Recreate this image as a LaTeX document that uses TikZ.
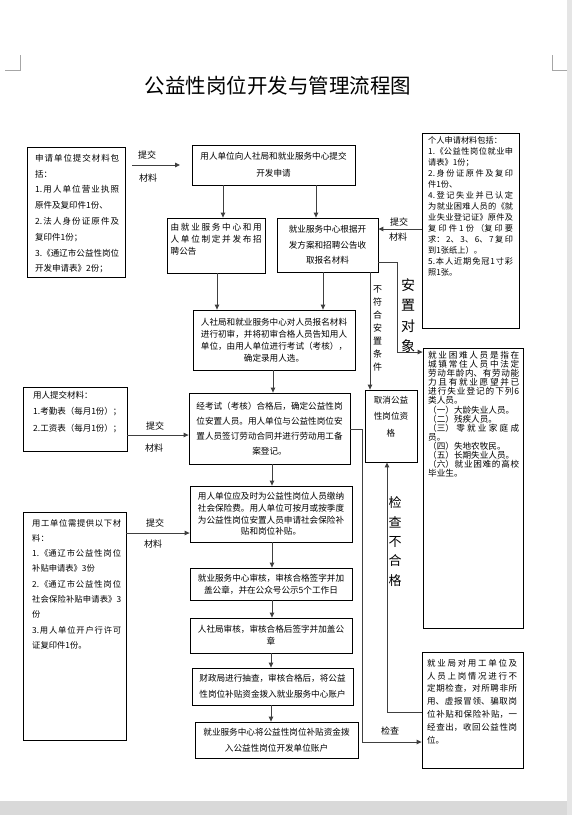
\documentclass[tikz,border=0pt]{standalone}
\usepackage{fontspec}
\setmainfont{Noto Sans CJK SC}
\usetikzlibrary{arrows.meta}
\XeTeXlinebreaklocale "zh"
\XeTeXlinebreakskip=0pt plus 6pt
\XeTeXlinebreakpenalty=10000
\setlength{\parindent}{0pt}
\newcommand{\myfs}[2]{\fontsize{#1}{#2}\selectfont}
\tikzset{
  box/.style={draw=black, line width=0.8pt, inner sep=2pt, align=center},
  txt/.style={inner sep=0pt, align=justify, anchor=north west},
  conn/.style={draw=black!75, line width=0.9pt},
  arr/.style={conn, -{Triangle[length=5pt,width=4.5pt]}},
  lab/.style={inner sep=0pt, font={\myfs{9}{10}}},
  vlab/.style={inner sep=0pt, align=center},
}
\begin{document}
\begin{tikzpicture}[x=1pt,y=-1pt]
\useasboundingbox (0,0) rectangle (572,815);
\fill[white] (0,0) rectangle (572,815);
\fill[gray!30] (0,801) rectangle (572,815);
\fill[gray!20] (567,0) rectangle (572,815);
\draw[gray!70, line width=0.5pt] (5,70) -- (20,70) -- (20,55);
\draw[gray!70, line width=0.5pt] (567,70) -- (552,70) -- (552,55);

% title
\node[inner sep=0pt, font={\myfs{20.5}{24}}] (title) at (278,86) {公益性岗位开发与管理流程图};

% left boxes
\node[box, minimum width=98pt, minimum height=130pt] (L1) at (76,212) {};
\node[txt, text width=84pt, font={\myfs{8.5}{15.8}}] (L1t) at (35,153.8) {申请单位提交材料包\linebreak 括：\par 1.用人单位营业执照\linebreak 原件及复印件1份、\par 2.法人身份证原件及\linebreak 复印件1份；\par 3.《通辽市公益性岗位\linebreak 开发申请表》2份；};

\node[box, minimum width=104pt, minimum height=64pt] (L2) at (75,419) {};
\node[txt, text width=90pt, font={\myfs{8.5}{16.5}}] (L2t) at (33,390.8) {用人提交材料：\par 1.考勤表（每月1份）；\par 2.工资表（每月1份）；};

\node[box, minimum width=103pt, minimum height=228pt] (L3) at (74.5,626) {};
\node[txt, text width=89pt, font={\myfs{8.3}{15.3}}] (L3t) at (32,518.8) {用工单位需提供以下材\linebreak 料：\par 1.《通辽市公益性岗位\linebreak 补贴申请表》3份\par 2.《通辽市公益性岗位\linebreak 社会保险补贴申请表》3\linebreak 份\par 3.用人单位开户行许可\linebreak 证复印件1份。};

% middle column
\node[box, minimum width=163pt, minimum height=40pt, font={\myfs{8.6}{17}}] (T1) at (273.5,165) {用人单位向人社局和就业服务中心提交\\开发申请};

\node[box, minimum width=98pt, minimum height=55pt] (M1) at (216,245.5) {};
\node[txt, text width=91pt, font={\myfs{8.6}{12}}] (M1t) at (170.5,223) {由就业服务中心和用\linebreak 人单位制定并发布招\linebreak 聘公告};

\node[box, minimum width=101pt, minimum height=54pt, font={\myfs{8.6}{15.5}}] (M2) at (327.5,245) {就业服务中心根据开\\发方案和招聘公告收\\取报名材料};

\node[box, minimum width=162pt, minimum height=60pt, font={\myfs{8.6}{12}}] (M3) at (274,340) {人社局和就业服务中心对人员报名材料\\进行初审，并将初审合格人员告知用人\\单位，由用人单位进行考试（考核），\\确定录用人选。};

\node[box, minimum width=161pt, minimum height=71pt, font={\myfs{8.6}{15}}] (M4) at (269.5,428.5) {经考试（考核）合格后，确定公益性岗\\位安置人员。用人单位与公益性岗位安\\置人员签订劳动合同并进行劳动用工备\\案登记。};

\node[box, minimum width=162pt, minimum height=56pt, font={\myfs{8.6}{11.7}}] (M5) at (271,514) {用人单位应及时为公益性岗位人员缴纳\\社会保险费。用人单位可按月或按季度\\为公益性岗位安置人员申请社会保险补\\贴和岗位补贴。};

\node[box, minimum width=162pt, minimum height=32pt, font={\myfs{8.6}{12}}] (M6) at (271,584) {就业服务中心审核，审核合格签字并加\\盖公章，并在公众号公示5个工作日};

\node[box, minimum width=162pt, minimum height=35pt, font={\myfs{8.6}{12}}] (M7) at (271,635.5) {人社局审核，审核合格后签字并加盖公\\章};

\node[box, minimum width=161pt, minimum height=37pt, font={\myfs{8.6}{16}}] (M8) at (272.5,686.5) {财政局进行抽查，审核合格后，将公益\\性岗位补贴资金拨入就业服务中心账户};

\node[box, minimum width=163pt, minimum height=36pt, font={\myfs{8.6}{16}}] (M9) at (276.5,740) {就业服务中心将公益性岗位补贴资金拨\\入公益性岗位开发单位账户};

% cancel box
\node[box, minimum width=52pt, minimum height=72pt] (C) at (391,426) {};
\node[vlab, anchor=north, font={\myfs{8.6}{16.5}}] (Ct) at (391,395.7) {取消公益\\性岗位资\\格};

% right boxes
\node[box, minimum width=97pt, minimum height=195pt] (R1) at (470.5,231) {};
\node[txt, text width=85pt, font={\myfs{8.2}{11}}] (R1t) at (428,136.2) {个人申请材料包括：\par 1.《公益性岗位就业申\linebreak 请表》1份；\par 2.身份证原件及复印\linebreak 件1份、\par 4.登记失业并已认定\linebreak 为就业困难人员的《就\linebreak 业失业登记证》原件及\linebreak 复印件1份（复印要\linebreak 求：2、3、6、7复印\linebreak 到1张纸上）。\par 5.本人近期免冠1寸彩\linebreak 照1张。};

\node[box, minimum width=100pt, minimum height=280pt] (R2) at (473,488) {};
\node[txt, text width=91pt, font={\myfs{8.6}{9.1}}] (R2t) at (428,351) {就业困难人员是指在\linebreak 城镇常住人员中法定\linebreak 劳动年龄内、有劳动能\linebreak 力且有就业愿望并已\linebreak 进行失业登记的下列6\linebreak 类人员。\par （一）大龄失业人员。\par （二）残疾人员。\par （三）零就业家庭成\linebreak 员。\par （四）失地农牧民。\par （五）长期失业人员。\par （六）就业困难的高校\linebreak 毕业生。};

\node[box, minimum width=101pt, minimum height=116pt] (R3) at (472.5,710) {};
\node[txt, text width=90pt, font={\myfs{8.5}{12.8}}] (R3t) at (427,658.8) {就业局对用工单位及\linebreak 人员上岗情况进行不\linebreak 定期检查，对所聘非所\linebreak 用、虚报冒领、骗取岗\linebreak 位补贴和保险补贴，一\linebreak 经查出，收回公益性岗\linebreak 位。};

% connectors
\coordinate (a1s) at (132,165);
\coordinate (a1e) at (180,165);
\draw[arr] (a1s) -- (a1e);
\node[lab] (l1a) at (147,155) {提交};
\node[lab] (l1b) at (148,178) {材料};

\draw[arr] (T1.south -| 223,0) -- (M1.north -| 223,0);
\draw[arr] (T1.south -| 316,0) -- (M2.north -| 316,0);

\draw[arr] (R1.west |- 0,229) -- (M2.east |- 0,229);
\node[lab] (r1a) at (399,222) {提交};
\node[lab] (r1b) at (398,237) {材料};

\draw[arr] (M2.east |- 0,262) -- (397,262) -- (397,352) -- (R2.west |- 0,352);
\node[vlab, font={\myfs{14}{20.3}}] (v1) at (408,315.5) {安\\置\\对\\象};

\draw[arr] (M2.south -| 370,0) -- (C.north -| 370,0);
\node[vlab, font={\myfs{9}{13}}] (v2) at (377.5,328) {不\\符\\合\\安\\置\\条\\件};

\draw[arr] (M1.south -| 217,0) -- (M3.north -| 217,0);
\draw[arr] (M2.south -| 323,0) -- (M3.north -| 323,0);
\draw[arr] (M3.south -| 273,0) -- (M4.north -| 273,0);

\draw[arr] (L2.east |- 0,435) -- (M4.west |- 0,435);
\node[lab] (l2a) at (155,426) {提交};
\node[lab] (l2b) at (154,448) {材料};

\draw[arr] (M4.south -| 272,0) -- (M5.north -| 272,0);
\draw[arr] (L3.east |- 0,533) -- (M5.west |- 0,533);
\node[lab] (l3a) at (155,523) {提交};
\node[lab] (l3b) at (153,544) {材料};

\draw[arr] (M5.south -| 272,0) -- (M6.north -| 272,0);
\draw[arr] (M6.south -| 272,0) -- (M7.north -| 272,0);
\draw[arr] (M7.south -| 271,0) -- (M8.north -| 271,0);
\draw[arr] (M8.south -| 271,0) -- (M9.north -| 271,0);

\draw[arr] (M4.east |- 0,429) -- (362,429) -- (362,742) -- (R3.west |- 0,742);
\node[lab] (c1) at (390,731) {检查};

\draw[arr] (R3.west |- 0,712) -- (387,712) -- (C.south -| 387,0);
\node[vlab, font={\myfs{13}{19.3}}] (v3) at (395,541.5) {检\\查\\不\\合\\格};
\end{tikzpicture}
\end{document}
